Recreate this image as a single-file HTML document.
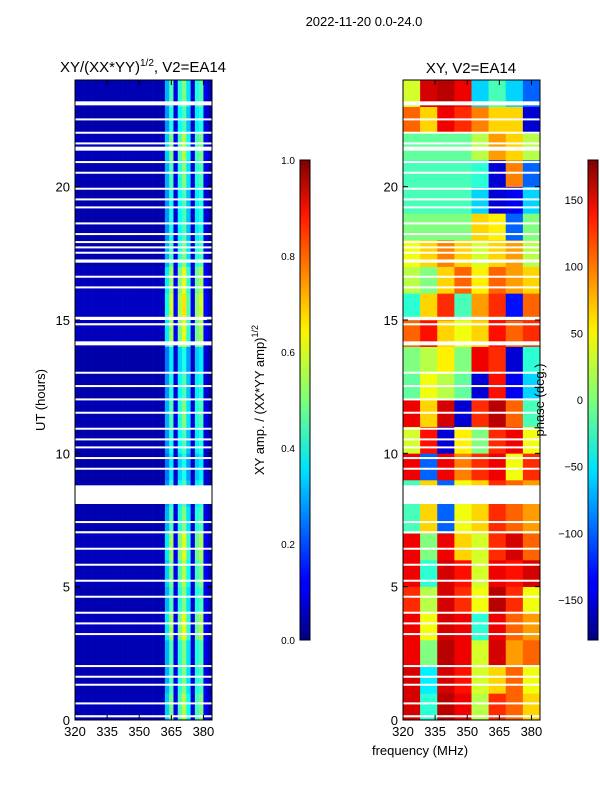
<!DOCTYPE html>
<html><head><meta charset="utf-8">
<style>
body{margin:0;background:#fff;font-family:"Liberation Sans","DejaVu Sans",sans-serif;}
svg text{font-family:"Liberation Sans","DejaVu Sans",sans-serif;}
</style></head>
<body>
<svg id="fig" width="600" height="800" xmlns="http://www.w3.org/2000/svg">
<defs>
<linearGradient id="jet" x1="0" y1="1" x2="0" y2="0">
<stop offset="0" stop-color="#00007f"/><stop offset="0.11" stop-color="#0000ff"/>
<stop offset="0.125" stop-color="#0000ff"/><stop offset="0.34" stop-color="#00d4ff"/>
<stop offset="0.36" stop-color="#00e4f8"/><stop offset="0.5" stop-color="#7dff7a"/>
<stop offset="0.64" stop-color="#f8f500"/><stop offset="0.66" stop-color="#ffe600"/>
<stop offset="0.89" stop-color="#ff1300"/><stop offset="1" stop-color="#7f0000"/>
</linearGradient>
</defs>
<text x="364" y="26" font-size="13" text-anchor="middle">2022-11-20 0.0-24.0</text>
<text x="143" y="72" font-size="15" text-anchor="middle">XY/(XX*YY)<tspan font-size="10" dy="-6">1/2</tspan><tspan dy="6">, V2=EA14</tspan></text>
<text x="471" y="73" font-size="15" text-anchor="middle">XY, V2=EA14</text>
<g id="left"></g>
<g id="right"></g>
<g id="axes"></g>
<rect x="300" y="160" width="10" height="480" fill="url(#jet)" stroke="#000" stroke-width="1"/>
<rect x="588" y="160" width="10" height="480" fill="url(#jet)" stroke="#000" stroke-width="1"/>
<text transform="translate(45,400) rotate(-90)" font-size="13" text-anchor="middle">UT (hours)</text>
<text transform="translate(264,400) rotate(-90)" font-size="13" text-anchor="middle">XY amp. / (XX*YY amp)<tspan font-size="9" dy="-6">1/2</tspan></text>
<text transform="translate(544,400) rotate(-90)" font-size="13" text-anchor="middle">phase (deg.)</text>
<text x="420" y="755" font-size="13" text-anchor="middle">frequency (MHz)</text>
</svg>
<script>
const freqTicks=[320,335,350,365,380];
const hourTicks=[0,5,10,15,20];
const ampTicks=[0.0,0.2,0.4,0.6,0.8,1.0];
const phaseTicks=[-150,-100,-50,0,50,100,150];
// amplitude per 2-MHz channel bin (320..384)
const ampCols=[0.05,0.05,0.05,0.05,0.05,0.05,0.05,0.05,0.05,0.05,0.05,0.05,0.05,0.05,0.05,0.05,0.05,0.05,0.05,0.05,0.05,0.3,0.45,0.1,0.42,0.5,0.35,0.08,0.4,0.45,0.1,0.05];
// amplitude row scale per hour (0..23)
const ampRows=[1.1,1.0,1.0,1.2,1.0,1.1,1.2,1.0,0.9,0.8,0.9,1.0,0.9,0.8,1.2,1.3,1.2,1.0,0.9,0.9,1.0,1.1,0.9,1.0];
// phase (deg) per hour row (0..23) x 8-MHz column
const phaseRows=[
[150,-30,160,140,20,120,100,60],
[150,-50,150,130,30,60,100,40],
[140,0,160,140,30,150,80,100],
[140,40,150,140,-30,140,100,80],
[120,20,150,120,40,160,120,40],
[140,-30,150,130,30,140,130,150],
[140,0,140,60,30,120,150,100],
[-20,60,-100,40,60,120,100,80],
[-20,60,-100,40,60,120,100,80],
[140,-100,140,90,120,140,40,120],
[30,130,-150,50,0,120,140,40],
[140,60,150,-150,120,160,100,-20],
[-10,40,20,-10,-150,130,-140,-60],
[0,20,50,0,140,120,-150,-30],
[100,130,60,40,60,130,100,120],
[-30,60,120,-20,80,120,-130,100],
[20,0,60,100,50,100,80,60],
[40,60,90,60,30,60,80,20],
[0,0,0,0,60,50,-100,0],
[-20,-20,-20,-20,-60,-150,-140,-60],
[-20,-20,-20,-20,-30,-150,90,-100],
[-10,-10,-10,-10,20,80,60,20],
[100,60,140,120,90,60,60,-150],
[30,150,160,140,-60,-20,-60,-100]];
// flagged (blank) times in hours: [start, duration]
const flagged=[[0.1,0.08],[0.6,0.06],[1.3,0.06],[1.6,0.06],[2.0,0.06],[3.2,0.06],[3.6,0.06],[4.0,0.06],[4.6,0.06],[5.2,0.06],[5.8,0.06],[6.4,0.06],[7.0,0.08],[7.4,0.06],[8.1,0.7],[9.4,0.06],[9.8,0.06],[10.2,0.06],[10.5,0.06],[10.9,0.06],[11.5,0.06],[12.0,0.06],[12.5,0.06],[13.0,0.06],[14.05,0.15],[14.8,0.08],[15.0,0.12],[16.2,0.06],[16.6,0.06],[17.15,0.12],[17.5,0.06],[17.7,0.06],[17.9,0.06],[18.2,0.06],[18.6,0.06],[19.2,0.06],[19.5,0.06],[19.9,0.06],[20.5,0.06],[20.9,0.06],[21.35,0.15],[21.6,0.06],[22.0,0.06],[22.5,0.06],[23.05,0.15]];

const NS="http://www.w3.org/2000/svg";
const Y0=720,Y1=80;
function yS(h){return Y0-(h/24)*(Y0-Y1);}
function xL(f){return 75+(f-320)/64*137;}
function xR(f){return 403+(f-320)/64*137;}
function jet(v){v=Math.max(0,Math.min(1,v));
 const r=Math.min(4*v-1.5,-4*v+4.5),g=Math.min(4*v-0.5,-4*v+3.5),b=Math.min(4*v+0.5,-4*v+2.5);
 const c=x=>Math.round(255*Math.max(0,Math.min(1,x)));return `rgb(${c(r)},${c(g)},${c(b)})`;}
function mk(p,tag,a){const e=document.createElementNS(NS,tag);for(const k in a)e.setAttribute(k,a[k]);p.appendChild(e);return e;}
const L=document.getElementById('left'),R=document.getElementById('right'),A=document.getElementById('axes');
for(let h=0;h<24;h++){
 for(let c=0;c<ampCols.length;c++){
  const f0=320+c*2;
  const r=mk(L,'rect',{x:xL(f0),y:yS(h+1),width:xL(f0+2)-xL(f0)+0.3,height:yS(h)-yS(h+1)+0.3,fill:jet(ampCols[c]*ampRows[h])});
  
  
 }
 for(let c=0;c<8;c++){
  const f0=320+c*8;
  const r=mk(R,'rect',{x:xR(f0),y:yS(h+1),width:xR(f0+8)-xR(f0)+0.3,height:yS(h)-yS(h+1)+0.3,fill:jet((phaseRows[h][c]+180)/360)});
  
  
 }
}
for(const [s,d] of flagged){
 for(const x of [75,403]){
  const r=mk(A,'rect',{x:x,y:yS(s+d),width:137,height:Math.max(2,yS(s)-yS(s+d)),fill:'#fff'});
  
  
 }
}
for(const x of [75,403]){
 mk(A,'rect',{x:x,y:80,width:137,height:640,fill:'none',stroke:'#000','stroke-width':1});
 const xf=x===75?xL:xR;
 for(const t of freqTicks){const px=xf(t);
  mk(A,'line',{x1:px,y1:720,x2:px,y2:715,stroke:'#000'});mk(A,'line',{x1:px,y1:80,x2:px,y2:85,stroke:'#000'});
  const tx=mk(A,'text',{x:px,y:736,'font-size':13,'text-anchor':'middle'});tx.textContent=t;
  }
 for(const t of hourTicks){const py=yS(t);
  mk(A,'line',{x1:x,y1:py,x2:x+5,y2:py,stroke:'#000'});mk(A,'line',{x1:x+137,y1:py,x2:x+132,y2:py,stroke:'#000'});
  const tx=mk(A,'text',{x:x-5,y:py+5,'font-size':13,'text-anchor':'end'});tx.textContent=t;
  }
}
for(const t of ampTicks){const py=640-t*480;
 mk(A,'line',{x1:300,y1:py,x2:303,y2:py,stroke:'#000'});mk(A,'line',{x1:310,y1:py,x2:307,y2:py,stroke:'#000'});
 const tx=mk(A,'text',{x:295,y:py+4,'font-size':10,'text-anchor':'end'});tx.textContent=t.toFixed(1);
 }
for(const t of phaseTicks){const py=640-(t+180)/360*480;
 mk(A,'line',{x1:588,y1:py,x2:591,y2:py,stroke:'#000'});mk(A,'line',{x1:598,y1:py,x2:595,y2:py,stroke:'#000'});
 const tx=mk(A,'text',{x:583,y:py+4,'font-size':11,'text-anchor':'end'});tx.textContent=(t<0?'\u2212'+(-t):t);
 }
</script>
</body></html>
